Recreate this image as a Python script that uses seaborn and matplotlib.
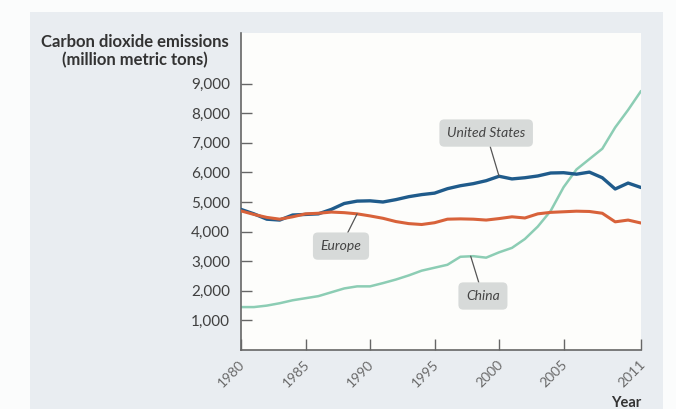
import numpy as np
import pandas as pd
import matplotlib
matplotlib.use("Agg")
import matplotlib.pyplot as plt
from matplotlib.patches import Rectangle
from matplotlib.transforms import ScaledTranslation
import seaborn as sns

years = list(range(1980, 2012))
us = [4750, 4600, 4420, 4390, 4560, 4580, 4600, 4750, 4950, 5030, 5040, 5000, 5080, 5180, 5250, 5300,
      5450, 5550, 5620, 5720, 5870, 5780, 5820, 5880, 5980, 5990, 5940, 6010, 5820, 5440, 5640, 5490]
europe = [4700, 4580, 4480, 4420, 4500, 4600, 4620, 4660, 4640, 4600, 4530, 4450, 4340, 4270, 4240, 4300,
          4420, 4430, 4420, 4390, 4440, 4500, 4460, 4600, 4650, 4670, 4690, 4680, 4620, 4330, 4390, 4290]
china = [1450, 1450, 1500, 1580, 1680, 1750, 1820, 1950, 2080, 2150, 2150, 2260, 2380, 2520, 2680, 2780,
         2880, 3150, 3170, 3120, 3300, 3450, 3750, 4170, 4700, 5500, 6100, 6450, 6800, 7520, 8110, 8750]
series_names = ["United States", "Europe", "China"]
yticks = [1000, 2000, 3000, 4000, 5000, 6000, 7000, 8000, 9000]
xticks = [1980, 1985, 1990, 1995, 2000, 2005, 2011]

df = pd.DataFrame({
    "Year": years * 3,
    "Emissions": us + europe + china,
    "Region": [series_names[0]] * len(years) + [series_names[1]] * len(years) + [series_names[2]] * len(years),
})

sns.set_theme(style="white")
plt.rcParams['font.family'] = ['Lato', 'DejaVu Sans']

W, H = 676, 409
fig = plt.figure(figsize=(W / 100, H / 100), dpi=100)
fig.patch.set_facecolor("#fbfcfc")
# background panel
fig.patches.append(Rectangle((30 / W, 0), (663 - 30) / W, (409 - 12) / H, transform=fig.transFigure,
                             facecolor="#e9edf1", edgecolor="none", zorder=-10))

ax = fig.add_axes([241 / W, (H - 350) / H, (641 - 241) / W, (350 - 33) / H])
ax.set_zorder(1)
ax.set_facecolor("#fdfdfb")

palette = {"United States": "#1f5b8b", "Europe": "#d8623a", "China": "#8ccdb4"}
widths = {"United States": 2.4, "Europe": 2.2, "China": 1.8}
for name in series_names:
    sub = df[df["Region"] == name]
    sns.lineplot(data=sub, x="Year", y="Emissions", ax=ax, color=palette[name],
                 linewidth=widths[name], legend=False, zorder=3 if name != "China" else 2)

ax.set_xlim(1980, 2011)
ax.set_ylim(0, 10710)
ax.set_yticks(yticks)
ax.set_yticklabels([f"{v:,}" for v in yticks], fontsize=11, color="#404040")
ax.set_xticks(xticks)
ax.set_xticklabels([str(v) for v in xticks], fontsize=10, color="#6a6a6a",
                   rotation=45, ha="right", va="center", rotation_mode="anchor")
ax.tick_params(axis="y", direction="in", length=8, width=1, color="#666666", pad=8, left=True)
ax.tick_params(axis="x", direction="in", length=8, width=1, color="#666666", pad=9, bottom=True)
offset = ScaledTranslation(2 / 100, 0, fig.dpi_scale_trans)
for lbl in ax.get_xticklabels():
    lbl.set_transform(lbl.get_transform() + offset)
ax.set_xlabel("")
ax.set_ylabel("")
for s in ["top", "right"]:
    ax.spines[s].set_visible(False)
for s in ["left", "bottom"]:
    ax.spines[s].set_color("#666666")
    ax.spines[s].set_linewidth(1.2)

fig.text(135 / W, 1 - 42 / H, "Carbon dioxide emissions", ha="center", va="center",
         fontsize=12, fontweight="bold", color="#333333")
fig.text(135 / W, 1 - 60 / H, "(million metric tons)", ha="center", va="center",
         fontsize=12, fontweight="bold", color="#333333")
fig.text(641 / W, 1 - 403 / H, "Year", ha="right", va="center",
         fontsize=10.5, fontweight="bold", color="#333333")

box = dict(boxstyle="round,pad=0.55,rounding_size=0.35", facecolor="#d7dad9", edgecolor="none")
arrow = dict(arrowstyle="-", color="#555555", lw=0.9, shrinkA=0, shrinkB=0)
ax.annotate("United States", xy=(2000, us[20]), xytext=(1999.0, 7330), ha="center", va="center",
            fontsize=10, fontstyle="italic", color="#444444", bbox=box, arrowprops=arrow)
ax.annotate("Europe", xy=(1989, europe[9]), xytext=(1987.75, 3510), ha="center", va="center",
            fontsize=10, fontstyle="italic", color="#444444", bbox=box, arrowprops=arrow)
ax.annotate("China", xy=(1997.8, 3170), xytext=(1998.75, 1824), ha="center", va="center",
            fontsize=10, fontstyle="italic", color="#444444", bbox=box, arrowprops=arrow)

fig.savefig("out.png", dpi=100, facecolor=fig.get_facecolor())
